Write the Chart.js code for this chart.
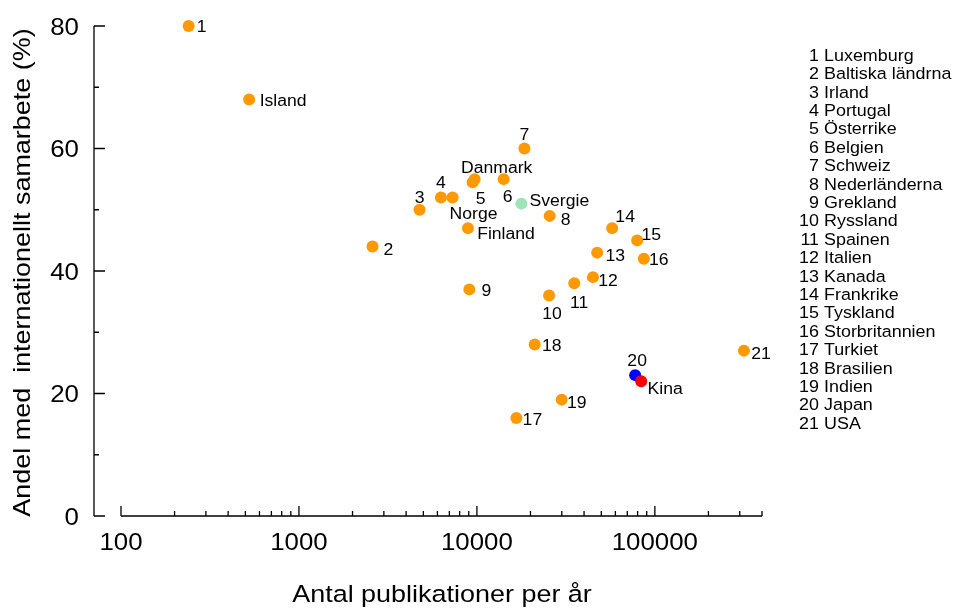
<!DOCTYPE html>
<html>
<head>
<meta charset="utf-8">
<script src="https://cdn.jsdelivr.net/npm/chart.js@4.4.1/dist/chart.umd.min.js"></script>
<style>
  html, body { margin: 0; padding: 0; background: #ffffff; }
  canvas { display: block; }
</style>
</head>
<body>
<canvas id="chart" width="955" height="610"></canvas>
<script>
// Numbered countries, listed in the key on the right
const legendNames = [
  'Luxemburg', 'Baltiska ländrna', 'Irland', 'Portugal', 'Österrike',
  'Belgien', 'Schweiz', 'Nederländerna', 'Grekland', 'Ryssland',
  'Spainen', 'Italien', 'Kanada', 'Frankrike', 'Tyskland',
  'Storbritannien', 'Turkiet', 'Brasilien', 'Indien', 'Japan', 'USA'
];

// Text written next to each point (numbers refer to the key)
const pointLabels = [
  '1', '2', '3', '4', '5', '6', '7', '8', '9', '10', '11',
  '12', '13', '14', '15', '16', '17', '18', '19', '20', '21',
  'Island', 'Danmark', 'Norge', 'Finland', 'Svergie', 'Kina'
];

// Publications per year
const publications = [
  240, 2590, 4760, 6280, 9460, 14140, 18490, 25650, 9070, 25450, 35240,
  44880, 47400, 57550, 79550, 86680, 16670, 21130, 29970, 77500, 316600,
  525, 9710, 7300, 8910, 17780, 83800
];

// Share with international co-authorship (%)
const intlShare = [
  80, 44, 50, 52, 54.5, 55, 60, 49, 37, 36, 38,
  39, 43, 47, 45, 42, 16, 28, 19, 23, 27,
  68, 55, 52, 47, 51, 22
];

// Axis ticks
const xMajorTicks = [100, 1000, 10000, 100000];
const xTickLabels = ['100', '1000', '10000', '100000'];
const yMajorTicks = [0, 20, 40, 60, 80];
const yTickLabels = ['0', '20', '40', '60', '80'];
const yMinorTicks = [10, 30, 50, 70];

const xTitle = 'Antal publikationer per år';
const yTitle = 'Andel med  internationellt samarbete (%)';

// --- styling (kept apart from the data) ---
const ORANGE = '#ff9900';
const pointColors = pointLabels.map((l) => {
  if (l === 'Svergie') return '#9fe4b8';
  if (l === '20') return '#0000ff';
  if (l === 'Kina') return '#ff0000';
  return ORANGE;
});

// Label centre offsets from each point, in pixels
const labelOffsets = [
  [13, 0], [16, 3], [0, -12], [0, -15], [8, 16], [4, 17], [0, -14], [16, 3], [17, 1], [3, 18], [5, 19],
  [15, 3], [18, 3], [13, -12], [14, -6], [15, 1], [16, 1], [17, 1], [15, 3], [2, -15], [17, 3],
  [34, 1], [22, -12], [21, 16], [38, 5], [38, -3], [24, 7]
];

const FONT = '"Liberation Sans", Arial, Helvetica, sans-serif';
const SX = 1.1; // horizontal widening of all text

function drawText(ctx, str, x, y, size, align, rotate) {
  ctx.save();
  ctx.translate(x, y);
  if (rotate) ctx.rotate(-Math.PI / 2);
  ctx.scale(SX, 1);
  ctx.font = size + 'px ' + FONT;
  ctx.fillStyle = '#000000';
  ctx.textAlign = align;
  ctx.textBaseline = 'alphabetic';
  ctx.fillText(str, 0, 0);
  ctx.restore();
}

// Axes with inward ticks, labels, titles and the numbered key
const axesPlugin = {
  id: 'rAxes',
  beforeDatasetsDraw(chart) {
    const ctx = chart.ctx;
    const xs = chart.scales.x;
    const ys = chart.scales.y;
    const y0 = ys.getPixelForValue(0);
    const yAxisX = 94;

    ctx.save();
    ctx.strokeStyle = '#000000';
    ctx.lineWidth = 1.3;
    ctx.lineCap = 'butt';

    // y axis
    ctx.beginPath();
    ctx.moveTo(yAxisX, ys.getPixelForValue(0));
    ctx.lineTo(yAxisX, ys.getPixelForValue(80));
    yMajorTicks.forEach((v) => {
      const p = ys.getPixelForValue(v);
      ctx.moveTo(yAxisX, p);
      ctx.lineTo(yAxisX + 11, p);
    });
    yMinorTicks.forEach((v) => {
      const p = ys.getPixelForValue(v);
      ctx.moveTo(yAxisX, p);
      ctx.lineTo(yAxisX + 5, p);
    });
    ctx.stroke();

    // x axis (log)
    ctx.beginPath();
    ctx.moveTo(xs.getPixelForValue(xs.min), y0);
    ctx.lineTo(xs.getPixelForValue(xs.max), y0);
    for (let d = 100; d <= 100000; d *= 10) {
      for (let m = 1; m <= 9; m++) {
        const v = d * m;
        if (v > xs.max) break;
        const p = xs.getPixelForValue(v);
        ctx.moveTo(p, y0);
        ctx.lineTo(p, y0 - (m === 1 ? 10 : 5));
      }
    }
    ctx.stroke();
    ctx.restore();

    // tick labels
    yMajorTicks.forEach((v, i) => {
      drawText(ctx, yTickLabels[i], 79, ys.getPixelForValue(v) + 8.5, 23.5, 'right');
    });
    xMajorTicks.forEach((v, i) => {
      drawText(ctx, xTickLabels[i], xs.getPixelForValue(v), 550, 23.5, 'center');
    });

    // axis titles
    drawText(ctx, xTitle, 442, 602, 24.5, 'center');
    drawText(ctx, yTitle, 30, 272.5, 24.5, 'center', true);

    // key
    legendNames.forEach((name, i) => {
      const yy = 55 + i * 18.4 + 5.7;
      drawText(ctx, String(i + 1), 819, yy, 16.3, 'right');
      drawText(ctx, name, 824, yy, 16.3, 'left');
    });
  },
  afterDatasetsDraw(chart) {
    const ctx = chart.ctx;
    const meta = chart.getDatasetMeta(0);
    meta.data.forEach((pt, i) => {
      const [dx, dy] = labelOffsets[i];
      drawText(ctx, pointLabels[i], pt.x + dx, pt.y + dy + 5.7, 16, 'center');
    });
  }
};

new Chart(document.getElementById('chart'), {
  type: 'scatter',
  data: {
    datasets: [{
      data: publications.map((p, i) => ({ x: p, y: intlShare[i] })),
      backgroundColor: pointColors,
      borderWidth: 0,
      pointRadius: 6,
      pointHoverRadius: 6,
      clip: false
    }]
  },
  options: {
    responsive: false,
    devicePixelRatio: 1,
    animation: false,
    events: [],
    layout: { padding: { left: 121, right: 193, top: 26, bottom: 94 } },
    plugins: { legend: { display: false }, tooltip: { enabled: false } },
    scales: {
      x: { type: 'logarithmic', min: 100, max: 400000, display: false },
      y: { type: 'linear', min: 0, max: 80, display: false }
    }
  },
  plugins: [axesPlugin]
});
</script>
</body>
</html>
